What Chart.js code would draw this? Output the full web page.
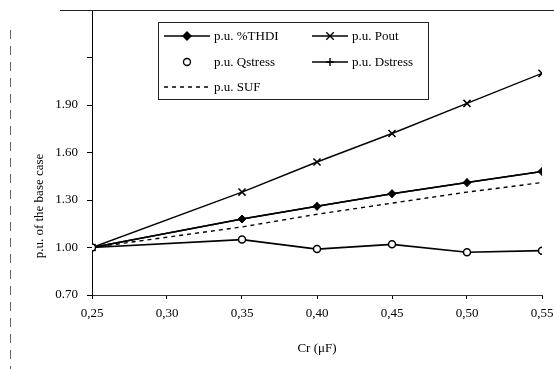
<!DOCTYPE html>
<html><head><meta charset="utf-8">
<script src="https://cdn.jsdelivr.net/npm/chart.js@4/dist/chart.umd.min.js"></script>
<style>html,body{margin:0;padding:0;background:#fff;}#wrap{width:554px;height:369px;position:relative;}</style>
</head><body><div id="wrap"><canvas id="c" width="554" height="369"></canvas></div>
<script>
// ---- data ----
const capacitance = [0.25, 0.35, 0.40, 0.45, 0.50, 0.55];
const puTHDI   = [1.00, 1.18, 1.26, 1.34, 1.41, 1.48];
const puPout   = [1.00, 1.35, 1.54, 1.72, 1.91, 2.10];
const puQstress= [1.00, 1.05, 0.99, 1.02, 0.97, 0.98];
const puDstress= [1.00, 1.18, 1.26, 1.34, 1.41, 1.48];
const puSUF    = [1.00, 1.13, 1.21, 1.28, 1.35, 1.41];
const xTickValues = [0.25, 0.30, 0.35, 0.40, 0.45, 0.50, 0.55];
const xTickLabels = ['0,25', '0,30', '0,35', '0,40', '0,45', '0,50', '0,55'];
const yTickValues = [0.70, 1.00, 1.30, 1.60, 1.90, 2.20, 2.50];
const yTickLabels = ['0.70', '1.00', '1.30', '1.60', '1.90', '', ''];
const seriesLabels = ['p.u. %THDI', 'p.u. Pout', 'p.u. Qstress', 'p.u. Dstress', 'p.u. SUF'];
const xTitle = 'Cr (μF)';
const yTitle = 'p.u. of the base case';

const FONT = "'Liberation Serif', 'DejaVu Serif', serif";
const pts = arr => arr.map((v, i) => ({x: capacitance[i], y: v}));

const datasets = [
  {label: seriesLabels[2], data: pts(puQstress), borderColor: '#000', backgroundColor: '#fff', borderWidth: 1.6,
   pointStyle: 'circle', pointRadius: 3.5, pointBorderWidth: 1.5, pointBackgroundColor: '#fff', legendLine: false},
  {label: seriesLabels[0], data: pts(puTHDI), borderColor: '#000', backgroundColor: '#000', borderWidth: 1.6,
   pointStyle: 'rectRot', pointRadius: 4, pointBorderWidth: 1, pointBackgroundColor: '#000', legendLine: true},
  {label: seriesLabels[3], data: pts(puDstress), borderColor: '#000', backgroundColor: '#000', borderWidth: 1.6,
   pointStyle: 'cross', pointRadius: 4, pointBorderWidth: 1.2, legendLine: true},
  {label: seriesLabels[1], data: pts(puPout), borderColor: '#000', backgroundColor: '#000', borderWidth: 1.4,
   pointStyle: 'crossRot', pointRadius: 5, pointBorderWidth: 1.5, legendLine: true},
  {label: seriesLabels[4], data: pts(puSUF), borderColor: '#000', backgroundColor: '#000', borderWidth: 1.4,
   borderDash: [4, 4], pointRadius: 0, legendLine: true},
];

function drawMarker(ctx, style, x, y, r) {
  ctx.beginPath();
  if (style === 'circle') { ctx.arc(x, y, r, 0, Math.PI * 2); ctx.fillStyle = '#fff'; ctx.fill(); ctx.stroke(); }
  else if (style === 'rectRot') { ctx.moveTo(x, y - r); ctx.lineTo(x + r, y); ctx.lineTo(x, y + r); ctx.lineTo(x - r, y); ctx.closePath(); ctx.fillStyle = '#000'; ctx.fill(); ctx.stroke(); }
  else if (style === 'cross') { ctx.moveTo(x, y - r); ctx.lineTo(x, y + r); ctx.moveTo(x - r, y); ctx.lineTo(x + r, y); ctx.stroke(); }
  else if (style === 'crossRot') { const d = r * 0.75; ctx.moveTo(x - d, y - d); ctx.lineTo(x + d, y + d); ctx.moveTo(x + d, y - d); ctx.lineTo(x - d, y + d); ctx.stroke(); }
}

const extras = {
  id: 'extras',
  afterDraw(chart) {
    const ctx = chart.ctx;
    ctx.save();
    // outer frame remnants
    ctx.strokeStyle = '#222'; ctx.lineWidth = 1;
    ctx.beginPath(); ctx.moveTo(60, 10.5); ctx.lineTo(554, 10.5); ctx.stroke();
    ctx.strokeStyle = '#666'; ctx.setLineDash([9, 7]);
    ctx.beginPath(); ctx.moveTo(10.5, 30); ctx.lineTo(10.5, 369); ctx.stroke();
    ctx.setLineDash([]);
    // y title
    ctx.save();
    ctx.translate(40, 206); ctx.rotate(-Math.PI / 2);
    ctx.fillStyle = '#000'; ctx.font = '13px ' + FONT; ctx.textAlign = 'center'; ctx.textBaseline = 'middle';
    ctx.fillText(yTitle, 0, 0);
    ctx.restore();
    // legend box
    ctx.fillStyle = '#fff'; ctx.fillRect(158, 22, 270, 77);
    ctx.strokeStyle = '#222'; ctx.lineWidth = 1;
    ctx.strokeRect(158.5, 22.5, 270, 77);
    const order = [[1, 164, 36, 46], [3, 312, 36, 36], [0, 164, 62, 46], [2, 312, 62, 36], [4, 164, 87, 46]];
    ctx.font = '13px ' + FONT; ctx.textBaseline = 'middle'; ctx.textAlign = 'left';
    order.forEach(([di, x, y, w]) => {
      const ds = chart.data.datasets[di];
      ctx.strokeStyle = '#000'; ctx.lineWidth = 1.6;
      if (ds.legendLine) {
        ctx.setLineDash(ds.borderDash || []);
        ctx.beginPath(); ctx.moveTo(x, y); ctx.lineTo(x + w, y); ctx.stroke();
        ctx.setLineDash([]);
      }
      if (ds.pointRadius > 0) { ctx.lineWidth = 1.4; drawMarker(ctx, ds.pointStyle, x + w / 2, y, ds.pointRadius); }
      ctx.fillStyle = '#000';
      ctx.fillText(ds.label, x + w + 4, y + 1);
    });
    ctx.restore();
  }
};

new Chart(document.getElementById('c'), {
  type: 'line',
  data: {datasets},
  options: {
    responsive: false, animation: false, devicePixelRatio: 1,
    layout: {padding: {top: 10, right: 12, left: 0, bottom: 0}},
    plugins: {legend: {display: false}, tooltip: {enabled: false}},
    elements: {line: {tension: 0}},
    scales: {
      x: {
        type: 'linear', min: 0.25, max: 0.55,
        afterBuildTicks: s => { s.ticks = xTickValues.map(v => ({value: v})); },
        afterFit: s => { s.height = 74; s.paddingLeft = 0; s.paddingRight = 0; },
        ticks: {callback: (v, i) => xTickLabels[i], color: '#000', font: {family: FONT, size: 13}, padding: 7, maxRotation: 0},
        grid: {drawOnChartArea: false, tickLength: 4, color: '#000'},
        border: {color: '#333', width: 1, dash: [14, 5]},
        title: {display: true, text: xTitle, color: '#000', font: {family: FONT, size: 13}, padding: {top: 4, bottom: 13}}
      },
      y: {
        type: 'linear', min: 0.70, max: 2.50,
        afterBuildTicks: s => { s.ticks = yTickValues.map(v => ({value: v})); },
        afterFit: s => { s.width = 92; s.paddingTop = 0; s.paddingBottom = 0; },
        ticks: {callback: (v, i) => yTickLabels[i], color: '#000', font: {family: FONT, size: 13}, padding: 9},
        grid: {drawOnChartArea: false, tickLength: 5, color: '#000'},
        border: {color: '#000', width: 1}
      }
    }
  },
  plugins: [extras]
});
</script>
</body></html>
